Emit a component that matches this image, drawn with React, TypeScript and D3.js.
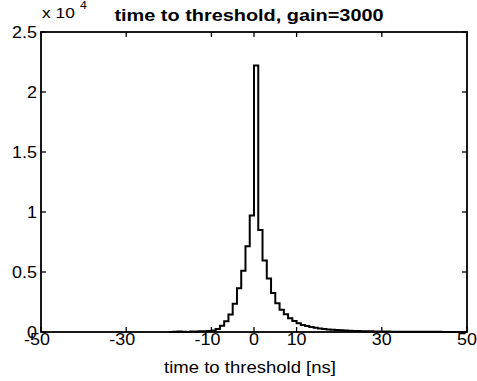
import React from "react";
import * as d3 from "d3";

const binStart = -20;
const counts = [
  0, 30, 40, 30, 0, 40, 50, 60, 60, 80,
  130, 250, 520, 900, 1450, 2350, 3650, 5100, 7150, 9700,
  22200, 8500, 5950, 4450, 3250, 2400, 1850, 1470, 1150, 920,
  730, 590, 490, 410, 345, 295, 250, 215, 185, 160,
  140, 120, 105, 90, 80, 70, 62, 55, 48, 42,
  37, 33, 30, 27, 24, 22, 20, 18, 16, 15,
  14, 13, 12, 11, 10, 10, 9, 9, 8, 8,
];
const xTicks = [-50, -30, -10, 0, 10, 30, 50];
const yTicks = [0, 5000, 10000, 15000, 20000, 25000];
const yTickLabels = ["0", "0.5", "1", "1.5", "2", "2.5"];
const title = "time to threshold, gain=3000";
const xLabel = "time to threshold [ns]";

const W = 477, H = 381;
const L = 41, R = 467, T = 32, B = 332;
const FONT = "'Liberation Sans', Arial, Helvetica, sans-serif";
const SX = 1.12;

export default function App() {
  const x = d3.scaleLinear().domain([-50, 50]).range([L, R]);
  const y = d3.scaleLinear().domain([0, 25000]).range([B, T]);

  const pts: [number, number][] = counts.map((c, i) => [binStart + i, c]);
  pts.push([binStart + counts.length, counts[counts.length - 1]]);
  pts.push([binStart + counts.length, 0]);
  const line = d3
    .line<[number, number]>()
    .x((d) => x(d[0]))
    .y((d) => y(d[1]))
    .curve(d3.curveStepAfter);

  const tickLen = 5;
  const txt = (
    key: string,
    tx: number,
    ty: number,
    s: string,
    anchor: string,
    size: number,
    scale: number,
    weight = "normal"
  ) => (
    <g key={key} transform={`translate(${tx},${ty}) scale(${scale},1)`}>
      <text
        x={0}
        y={0}
        textAnchor={anchor}
        fontFamily={FONT}
        fontSize={size}
        fontWeight={weight}
        fill="#000"
      >
        {s}
      </text>
    </g>
  );

  return (
    <svg
      width={W}
      height={H}
      style={{ position: "absolute", left: 0, top: 0, background: "#fff" }}
    >
      <rect x={0} y={0} width={W} height={H} fill="#fff" />
      <path d={line(pts) || ""} fill="none" stroke="#000" strokeWidth={2} />
      <rect
        x={L}
        y={T}
        width={R - L}
        height={B - T}
        fill="none"
        stroke="#000"
        strokeWidth={1.8}
      />
      {xTicks.map((t) => (
        <g key={"xt" + t}>
          <line x1={x(t)} x2={x(t)} y1={B} y2={B - tickLen} stroke="#000" strokeWidth={1.3} />
          <line x1={x(t)} x2={x(t)} y1={T} y2={T + tickLen} stroke="#000" strokeWidth={1.3} />
        </g>
      ))}
      {yTicks.map((t) => (
        <g key={"yt" + t}>
          <line x1={L} x2={L + tickLen} y1={y(t)} y2={y(t)} stroke="#000" strokeWidth={1.3} />
          <line x1={R} x2={R - tickLen} y1={y(t)} y2={y(t)} stroke="#000" strokeWidth={1.3} />
        </g>
      ))}
      {xTicks.map((t) =>
        txt("xl" + t, x(t) + (t < 0 ? -4 : 0), B + 13, String(t), "middle", 16, SX)
      )}
      {yTicks.map((t, i) =>
        txt("yl" + t, L - 4, y(t) + 6, yTickLabels[i], "end", 16, SX)
      )}
      {txt("ex", 42, 18, "x 10", "start", 15.5, SX)}
      {txt("ex4", 80, 9, "4", "start", 11, SX)}
      {txt("title", 249, 20.5, title, "middle", 17, 1.17, "bold")}
      {txt("xlab", 250, 373, xLabel, "middle", 17, 1.09)}
    </svg>
  );
}
